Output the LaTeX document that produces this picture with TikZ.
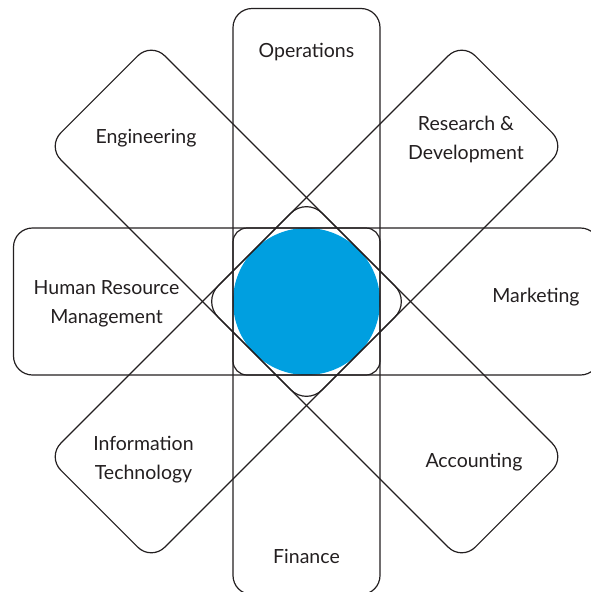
\documentclass[tikz,border=0pt]{standalone}
\usepackage{fontspec}
\setmainfont{Lato}
\definecolor{hubblue}{HTML}{009FE0}
\definecolor{ink}{HTML}{231F20}
\begin{document}
\begin{tikzpicture}[x=1pt,y=-1pt,
  outline/.style={draw=ink, line width=1.2pt, inner sep=0pt, outer sep=0pt},
  armbox/.style={outline, rectangle, rounded corners=19pt,
                 minimum width=147pt, minimum height=586pt},
  label/.style={font=\fontsize{19.5}{29}\selectfont, text=ink, align=center, inner sep=0pt}]
\useasboundingbox (0,0) rectangle (591,592);
\coordinate (c) at (306.5,301.5);

% central disc
\node[circle, fill=hubblue, minimum size=147pt, inner sep=0pt] (hub) at (c) {};

% four long arms through the centre
\node[armbox] (armV) at (c) {};
\node[armbox, rotate=90] (armH) at (c) {};
\node[armbox, rotate=45] (armD) at (c) {};
\node[armbox, rotate=-45] (armE) at (c) {};

% overlap outlines around the disc
\node[outline, rectangle, rounded corners=14pt, minimum size=147pt] (core) at (c) {};
\node[outline, rectangle, rounded corners=22pt, minimum size=147pt, rotate=45] (diamond) at (c) {};

% arm labels
\node[label, anchor=base] (ops) at (306.5,57) {Operations};
\node[label] (rnd) at (466,139) {Research \&\\Development};
\node[label, anchor=base] (eng) at (146,143) {Engineering};
\node[label] (hrm) at (106.5,304) {Human Resource\\Management};
\node[label, anchor=base] (mkt) at (536,302) {Marketing};
\node[label] (itc) at (143.5,460) {Information\\Technology};
\node[label, anchor=base] (acc) at (474,467) {Accounting};
\node[label, anchor=base] (fin) at (306.5,563) {Finance};
\end{tikzpicture}
\end{document}
